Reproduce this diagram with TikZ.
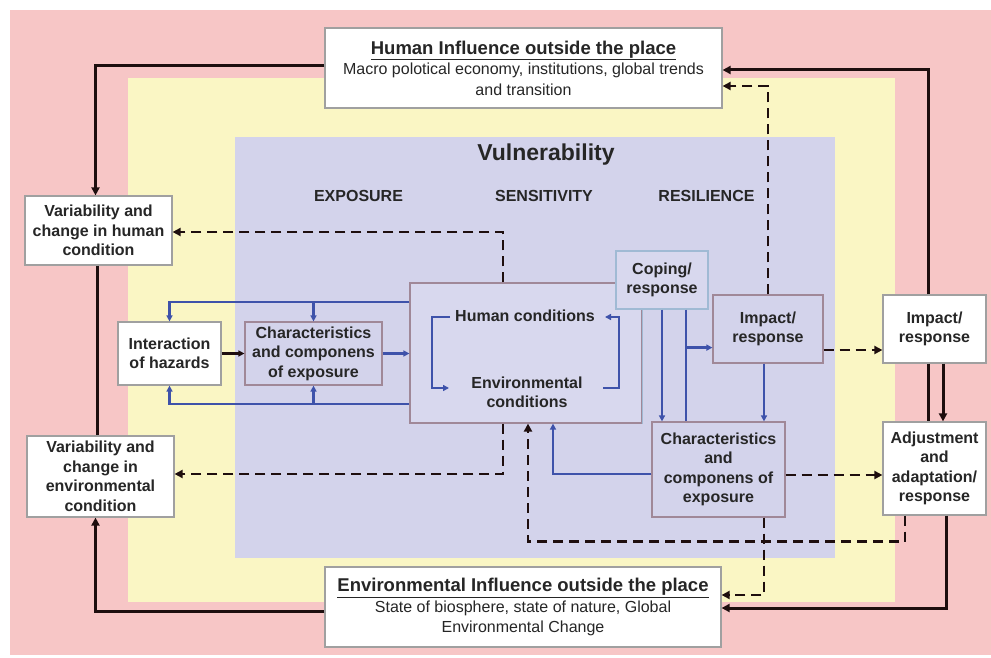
\documentclass[tikz,border=0pt]{standalone}
\usepackage{fontspec}
\setmainfont{Liberation Sans}
\usetikzlibrary{arrows.meta,calc}
\definecolor{pinkbg}{RGB}{247,198,198}
\definecolor{yellowbg}{RGB}{250,246,196}
\definecolor{lavbg}{RGB}{211,211,235}
\definecolor{lavbox}{RGB}{216,216,238}
\definecolor{mauve}{RGB}{160,136,152}
\definecolor{graybd}{RGB}{160,160,160}
\definecolor{lblue}{RGB}{160,186,212}
\definecolor{bluc}{RGB}{62,82,170}
\definecolor{blkc}{RGB}{30,14,14}
\newcommand\bxfont{\fontsize{16}{19.5}\selectfont\bfseries}
\newcommand\ttlfont{\fontsize{18.5}{21}\selectfont\bfseries}
\begin{document}
\begin{tikzpicture}[x=1pt,y=-1pt,
  box/.style={draw, line width=1.2pt, inner sep=0pt, align=center, font=\bxfont, text=black!85},
  obox/.style={box, draw=graybd, fill=white},
  ibox/.style={box, draw=mauve, fill=lavbox},
  infbox/.style={obox, font=\fontsize{16}{20.5}\selectfont},
  lbl/.style={inner sep=0pt, align=center, font=\bxfont, text=black!85},
  blk/.style={draw=blkc, line width=3pt},
  dsh/.style={draw=blkc, line width=2.6pt, dash pattern=on 10pt off 6pt},
  blu/.style={draw=bluc, line width=2.4pt},
  arrb/.style={-{Triangle[length=8pt,width=8pt]}},
  arrs/.style={-{Triangle[length=6pt,width=6pt]}}]
\useasboundingbox (0,0) rectangle (991,658);
% backgrounds
\fill[pinkbg] (10,10) rectangle (991,655);
\fill[yellowbg] (128,78) rectangle (895,602);
\fill[lavbg] (235,137) rectangle (835,558);
% headers
\node[lbl, font=\fontsize{23}{26}\selectfont\bfseries] (vul) at (546,155) {Vulnerability};
\node[lbl] (expo) at (358.5,196) {EXPOSURE};
\node[lbl] (sens) at (544,196) {SENSITIVITY};
\node[lbl] (resi) at (706.5,196) {RESILIENCE};
% influence boxes
\node[infbox, minimum width=397pt, minimum height=80pt] (hinf) at (523.5,68)
  {{\ttlfont\underline{Human Influence outside the place}}\\ Macro polotical economy, institutions, global trends\\ and transition};
\node[infbox, minimum width=396pt, minimum height=80pt] (einf) at (523,607)
  {{\ttlfont\underline{Environmental Influence outside the place}}\\ State of biosphere, state of nature, Global\\ Environmental Change};
% left boxes
\node[obox, minimum width=147pt, minimum height=69pt] (varh) at (98.5,230.5) {Variability and\\ change in human\\ condition};
\node[obox, minimum width=147pt, minimum height=81pt] (vare) at (100.5,476.5) {Variability and\\ change in\\ environmental\\ condition};
\node[obox, minimum width=103pt, minimum height=63pt] (inter) at (169.5,353.5) {Interaction\\ of hazards};
\node[ibox, fill=lavbg, minimum width=137pt, minimum height=63pt] (charl) at (313.5,353.5) {Characteristics\\ and componens\\ of exposure};
% central box
\node[ibox, minimum width=232pt, minimum height=140pt] (center) at (526,353) {};
\draw[lblue, line width=1.2pt] (center.north east) -- (center.south east);
\node[lbl] (hc) at (525,316) {Human conditions};
\node[lbl] (ec) at (527,392.5) {Environmental\\ conditions};
% right boxes
\node[box, draw=lblue, fill=lavbox, minimum width=92pt, minimum height=58pt] (coping) at (662,280) {Coping/\\ response};
\node[ibox, fill=lavbg, minimum width=110pt, minimum height=68pt] (impin) at (768,329) {Impact/\\ response};
\node[ibox, fill=lavbg, minimum width=133pt, minimum height=95pt] (charr) at (718.5,469.5) {Characteristics\\ and\\ componens of\\ exposure};
\node[obox, minimum width=103pt, minimum height=68pt] (impout) at (934.5,329) {Impact/\\ response};
\node[obox, minimum width=103pt, minimum height=93pt] (adj) at (934.5,468.5) {Adjustment\\ and\\ adaptation/\\ response};
% brackets in central box
\draw[blu, line width=2.6pt, arrs] ($(center)+(-76,-36)$) -- ($(center)+(-94,-36)$) -- ($(center)+(-94,35)$) -- ($(center)+(-77,35)$);
\draw[blu, line width=2.6pt, arrs] ($(center)+(77,35)$) -- ($(center)+(93,35)$) -- ($(center)+(93,-36)$) -- ($(center)+(79,-36)$);
% black solid connectors
\coordinate (h1) at ($(hinf.west)+(0,-2)$);
\draw[blk,arrb] (h1) -| ($(varh.north)+(-3,0)$);
\coordinate (v1) at ($(varh.south)+(-1,0)$);
\draw[blk] (v1) -- (v1 |- vare.north);
\coordinate (e1) at ($(einf.west)+(0,4)$);
\draw[blk,arrb] (e1) -| ($(vare.south)+(-5,0)$);
\coordinate (a1) at ($(adj.south)+(11.5,0)$);
\draw[blk,arrb] (a1) |- ($(einf.east)+(0,1)$);
\coordinate (i1) at ($(impout.north)+(-6.5,0)$);
\draw[blk,arrb] (i1) |- ($(hinf.east)+(0,2)$);
\coordinate (i2) at ($(impout.south)+(-6.5,0)$);
\draw[blk] (i2) -- (i2 |- adj.north);
\coordinate (i3) at ($(impout.south)+(8.5,0)$);
\draw[blk,arrb] (i3) -- (i3 |- adj.north);
% dashed connectors
\coordinate (d7) at ($(center.north)+(-23,0)$);
\draw[dsh,arrb] (d7) |- ($(varh.east)+(0,1.5)$);
\coordinate (d8) at ($(center.south)+(-23,0)$);
\draw[dsh,arrb] (d8) |- ($(vare.east)+(0,-2.5)$);
\draw[dsh,arrb] (impin.north) |- ($(hinf.east)+(0,18)$);
\coordinate (d10) at ($(impin.east)+(0,21)$);
\draw[dsh,arrb] (d10) -- (d10 -| impout.west);
\coordinate (d11) at ($(charr.east)+(0,5.5)$);
\draw[dsh,arrb] (d11) -- (d11 -| adj.west);
\coordinate (d12) at ($(charr.south)+(45.5,0)$);
\draw[dsh,arrb] (d12) |- ($(einf.east)+(0,-12)$);
\coordinate (d13) at ($(adj.south)+(-29.5,0)$);
\draw[dsh,arrb] (d13) -- ++(0,26) -| ($(center.south)+(2,0)$);
% blue connectors
\coordinate (b14) at ($(center.west)+(0,-51)$);
\draw[blu,arrs] (b14) -| (inter.north);
\draw[blu,arrs] (b14 -| charl.north) -- (charl.north);
\coordinate (b15) at ($(center.west)+(0,51)$);
\draw[blu,arrs] (b15) -| (inter.south);
\draw[blu,arrs] (b15 -| charl.south) -- (charl.south);
\draw[blk,arrs] (inter.east) -- (charl.west);
\draw[blu,arrs] (charl.east) -- (charl.east -| center.west);
\draw[blu,arrs] (coping.south) -- (coping.south |- charr.north);
\coordinate (b18) at ($(coping.south)+(24,0)$);
\draw[blu] (b18) -- (b18 |- charr.north);
\coordinate (b18b) at ($(coping.south)+(24,38)$);
\draw[blu,arrs] (b18b) -- (b18b -| impin.west);
\coordinate (b19) at ($(impin.south)+(-4,0)$);
\draw[blu,arrs] (b19) -- (b19 |- charr.north);
\coordinate (b20) at ($(charr.west)+(0,4.5)$);
\draw[blu,arrs] (b20) -| ($(center.south)+(27,0)$);
\end{tikzpicture}
\end{document}
